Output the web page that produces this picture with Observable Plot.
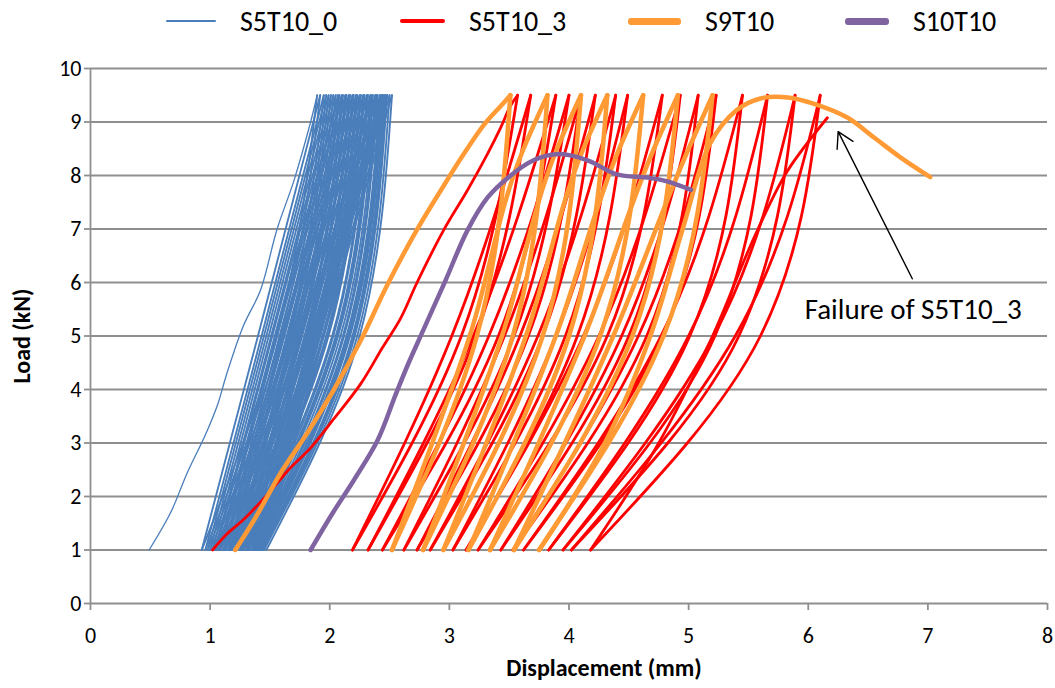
<!DOCTYPE html>
<html><head><meta charset="utf-8">
<script src="https://cdn.jsdelivr.net/npm/d3@7"></script>
<script src="https://cdn.jsdelivr.net/npm/@observablehq/plot@0.6"></script>
<style>
body{margin:0;background:#fff;font-family:Carlito,Lato,sans-serif;}
#wrap{position:relative;width:1055px;}
#legend{position:relative;height:48px;width:1055px;}
.item{position:absolute;top:0;height:42px;display:flex;align-items:center;font-size:28px;color:#000;white-space:nowrap;}
.swatch{display:inline-block;margin-right:24px;border-radius:3px;}
</style></head><body>
<div id="wrap"><div id="legend"></div><div id="chart"></div></div>
<script>
// ---------- data ----------
const seriesNames = ["S5T10_0", "S5T10_3", "S9T10", "S10T10"];
const seriesColors = ["#4A7EBB", "#FF0000", "#FF9A35", "#8064A2"];
const xTicks = [0, 1, 2, 3, 4, 5, 6, 7, 8];
const yTicks = [0, 1, 2, 3, 4, 5, 6, 7, 8, 9, 10];
const cycleLoads = [1, 5, 9.5];        // load at bottom, middle, top of each cycle branch
const orangeUpLoads = [1, 5, 8.5, 9.5]; // S9T10 reloading branches (rounded peaks)

// S5T10_0
const blueVirginX = [0.49,0.67,0.81,0.96,1.06,1.14,1.28,1.42,1.56,1.70,1.84,1.895];
const blueVirginY = [1,1.7,2.45,3.15,3.7,4.3,5.2,5.85,7.0,7.9,9.0,9.5];
const blueVirginUnloadMid = 1.56;
const blueBottom = [0.93,0.96,0.98,1.00,1.02,1.04,1.05,1.07,1.08,1.09,1.11,1.12,1.13,1.15,1.16,1.17,1.18,1.20,1.21,1.22,1.23,1.25,1.26,1.27,1.28,1.30,1.31,1.32,1.33,1.35,1.36,1.37,1.38,1.39,1.40,1.41,1.42,1.43,1.44,1.45,1.47];
const blueTop = [1.92,1.95,1.97,1.99,2.01,2.03,2.05,2.07,2.08,2.10,2.11,2.13,2.14,2.16,2.17,2.19,2.20,2.22,2.23,2.25,2.26,2.28,2.29,2.31,2.32,2.34,2.35,2.36,2.38,2.39,2.40,2.42,2.43,2.44,2.45,2.46,2.47,2.48,2.50,2.52];
const blueUpMid = [1.40,1.43,1.45,1.47,1.49,1.51,1.52,1.54,1.55,1.56,1.58,1.60,1.61,1.62,1.64,1.65,1.66,1.68,1.69,1.70,1.71,1.73,1.74,1.76,1.77,1.79,1.80,1.81,1.82,1.84,1.85,1.86,1.87,1.88,1.89,1.90,1.91,1.92,1.94,1.95];
const blueDownMid = [1.59,1.62,1.65,1.67,1.69,1.72,1.74,1.75,1.76,1.79,1.80,1.82,1.83,1.86,1.87,1.89,1.90,1.92,1.94,1.95,1.97,1.98,1.99,2.02,2.03,2.05,2.06,2.07,2.09,2.11,2.12,2.14,2.15,2.16,2.17,2.19,2.20,2.21,2.23,2.25];

// S5T10_3
const redVirginX = [1.02,1.14,1.28,1.48,1.66,1.84,2.03,2.26,2.44,2.59,2.73,2.95,3.15,3.32,3.43,3.51,3.57];
const redVirginY = [1,1.30,1.57,2.04,2.51,2.91,3.44,4.11,4.78,5.32,6.0,6.97,7.72,8.41,8.9,9.3,9.5];
const redTop = [3.57,3.68,3.89,4.00,4.10,4.22,4.39,4.49,4.78,4.93,5.08,5.23,5.45,5.66,5.89,6.10];
const redBottom = [2.19,2.32,2.44,2.62,2.73,2.84,3.03,3.14,3.24,3.43,3.53,3.62,3.83,3.95,4.02,4.18];
const redDownMid = [3.10,3.22,3.41,3.54,3.66,3.78,3.97,4.07,4.32,4.50,4.65,4.78,5.01,5.22,5.42,5.60];
const redUpMid = [3.02,3.20,3.33,3.46,3.59,3.74,3.89,4.12,4.25,4.44,4.58,4.77,5.00,5.21,5.39];
const redFailX = [4.18,4.75,5.20,5.58,5.83,6.16];
const redFailY = [1,3,5,7,8.1,9.08];

// S9T10
const orangeVirginX = [1.21,1.37,1.59,1.81,2.03,2.26,2.48,2.72,2.95,3.12,3.29,3.43,3.51];
const orangeVirginY = [1,1.57,2.44,3.18,3.98,4.92,5.95,6.95,7.8,8.4,8.95,9.3,9.5];
const orangeTop = [3.51,3.82,4.10,4.32,4.62,4.91,5.20];
const orangeBottom = [2.52,2.78,2.95,3.16,3.34,3.54,3.75];
const orangeDownMid = [3.23,3.53,3.78,4.00,4.26,4.53,4.79];
const orangeUpMid = [3.17,3.44,3.64,3.89,4.13,4.37];
const orangeUpHigh = [3.62,3.90,4.12,4.42,4.71,5.00];
const orangeFinalX = [3.75,4.30,4.68,4.95,5.18,5.40,5.60,5.83,6.05,6.33,6.55,6.77,7.02];
const orangeFinalY = [1,3,5,7,8.6,9.22,9.44,9.46,9.34,9.08,8.71,8.34,7.97];

// S10T10
const purpleX = [1.84,2.03,2.20,2.40,2.55,2.66,2.78,2.87,2.97,3.15,3.32,3.49,3.70,3.92,4.16,4.40,4.66,4.82,5.02];
const purpleY = [1,1.71,2.3,3.05,3.9,4.5,5.1,5.55,6.05,6.97,7.59,7.96,8.28,8.40,8.28,8.02,7.96,7.89,7.73];

// annotation
const noteText = ["Failure of S5T10_3"];
const noteX = [5.97];
const noteY = [5.5];
const arrowFrom = [6.87, 6.07];
const arrowTo = [6.25, 8.82];

// ---------- build tables ----------
function pts(series, id, xs, ys) { return xs.map((x, i) => ({series, id, x, y: ys[i]})); }

const blueCycles = [];
blueCycles.push(...pts("b", "bu0", [blueBottom[0], blueVirginUnloadMid, blueVirginX[blueVirginX.length - 1]], cycleLoads));
blueTop.forEach((t, k) => {
  blueCycles.push(...pts("b", "bl" + k, [blueBottom[k], blueUpMid[k], t], cycleLoads));
  blueCycles.push(...pts("b", "bd" + k, [blueBottom[k + 1], blueDownMid[k], t], cycleLoads));
});

const redCycles = [];
redTop.forEach((t, k) => {
  redCycles.push(...pts("r", "rd" + k, [redBottom[k], redDownMid[k], t], cycleLoads));
  if (k < redUpMid.length) redCycles.push(...pts("r", "rl" + k, [redBottom[k], redUpMid[k], redTop[k + 1]], cycleLoads));
});

const orangeDown = [], orangeUp = [];
orangeTop.forEach((t, k) => {
  orangeDown.push(...pts("o", "od" + k, [orangeBottom[k], orangeDownMid[k], t], cycleLoads));
  if (k < orangeUpMid.length) orangeUp.push(...pts("o", "ol" + k, [orangeBottom[k], orangeUpMid[k], orangeUpHigh[k], orangeTop[k + 1]], orangeUpLoads));
});

// ---------- legend ----------
const legendLeft = [166, 400, 628, 845];
const swatchW = [50, 45, 53, 44];
const swatchH = [2, 4, 7, 7];
const legend = document.getElementById("legend");
seriesNames.forEach((name, i) => {
  const it = document.createElement("div");
  it.className = "item";
  it.style.left = legendLeft[i] + "px";
  const sw = document.createElement("span");
  sw.className = "swatch";
  sw.style.width = swatchW[i] + "px";
  sw.style.height = swatchH[i] + "px";
  sw.style.background = seriesColors[i];
  it.appendChild(sw);
  it.appendChild(document.createTextNode(name));
  legend.appendChild(it);
});

// ---------- chart ----------
const gridColor = "#8f8f8f";
const lineOpts = {x: "x", y: "y", z: "id", strokeLinejoin: "round", strokeLinecap: "round"};
const chart = Plot.plot({
  width: 1055, height: 640,
  marginTop: 20, marginBottom: 85, marginLeft: 90, marginRight: 8,
  x: {domain: [0, 8]},
  y: {domain: [0, 10]},
  style: {fontFamily: "Carlito, Lato, sans-serif", fontSize: "22px", color: "#000", background: "#fff"},
  marks: [
    Plot.gridY(yTicks, {stroke: gridColor, strokeOpacity: 1, strokeWidth: 1.8}),
    Plot.ruleX([0], {stroke: gridColor, strokeWidth: 1.8}),
    Plot.axisY(yTicks, {tickSize: 6, tickPadding: 3, stroke: gridColor, strokeWidth: 1.8, fill: "#000", label: null, fontSize: 22, tickFormat: d => String(d)}),
    Plot.axisX(xTicks, {tickSize: 7, tickPadding: 17, stroke: gridColor, strokeWidth: 1.8, fill: "#000", label: null, fontSize: 22, tickFormat: d => String(d)}),
    Plot.text(["Load (kN)"], {frameAnchor: "left", textAnchor: "middle", dx: -68, rotate: -90, fontWeight: "bold", fontSize: 24, fill: "#000"}),
    Plot.text(["Displacement (mm)"], {frameAnchor: "bottom", dx: 35, dy: 72, fontWeight: "bold", fontSize: 24, fill: "#000"}),
    // S5T10_0
    Plot.line(blueCycles, {...lineOpts, stroke: seriesColors[0], strokeWidth: 1.9, curve: "monotone-y"}),
    Plot.line(pts("b", "bv", blueVirginX, blueVirginY), {...lineOpts, stroke: seriesColors[0], strokeWidth: 1.3, curve: "catmull-rom"}),
    // S5T10_3
    Plot.line(pts("r", "rv", redVirginX, redVirginY), {...lineOpts, stroke: seriesColors[1], strokeWidth: 2.8, curve: "catmull-rom"}),
    Plot.line(redCycles, {...lineOpts, stroke: seriesColors[1], strokeWidth: 2.8, curve: "monotone-y"}),
    Plot.line(pts("r", "rf", redFailX, redFailY), {...lineOpts, stroke: seriesColors[1], strokeWidth: 2.8, curve: "monotone-y"}),
    // S9T10
    Plot.line(pts("o", "ov", orangeVirginX, orangeVirginY), {...lineOpts, stroke: seriesColors[2], strokeWidth: 4.5, curve: "catmull-rom"}),
    Plot.line(orangeDown, {...lineOpts, stroke: seriesColors[2], strokeWidth: 4.5, curve: "monotone-y"}),
    Plot.line(orangeUp, {...lineOpts, stroke: seriesColors[2], strokeWidth: 4.5, curve: "monotone-y"}),
    Plot.line(pts("o", "of", orangeFinalX, orangeFinalY), {...lineOpts, stroke: seriesColors[2], strokeWidth: 4.5, curve: "catmull-rom"}),
    // S10T10
    Plot.line(pts("p", "pv", purpleX, purpleY), {...lineOpts, stroke: seriesColors[3], strokeWidth: 4.5, curve: "catmull-rom"}),
    // annotation
    Plot.arrow([0], {x1: () => arrowFrom[0], y1: () => arrowFrom[1], x2: () => arrowTo[0], y2: () => arrowTo[1], stroke: "#000", strokeWidth: 1.4, headLength: 19, headAngle: 60, bend: 0}),
    Plot.text(noteText, {x: noteX, y: noteY, text: d => d, textAnchor: "start", fontSize: 29, fill: "#000"})
  ]
});
document.getElementById("chart").appendChild(chart);
</script></body></html>
